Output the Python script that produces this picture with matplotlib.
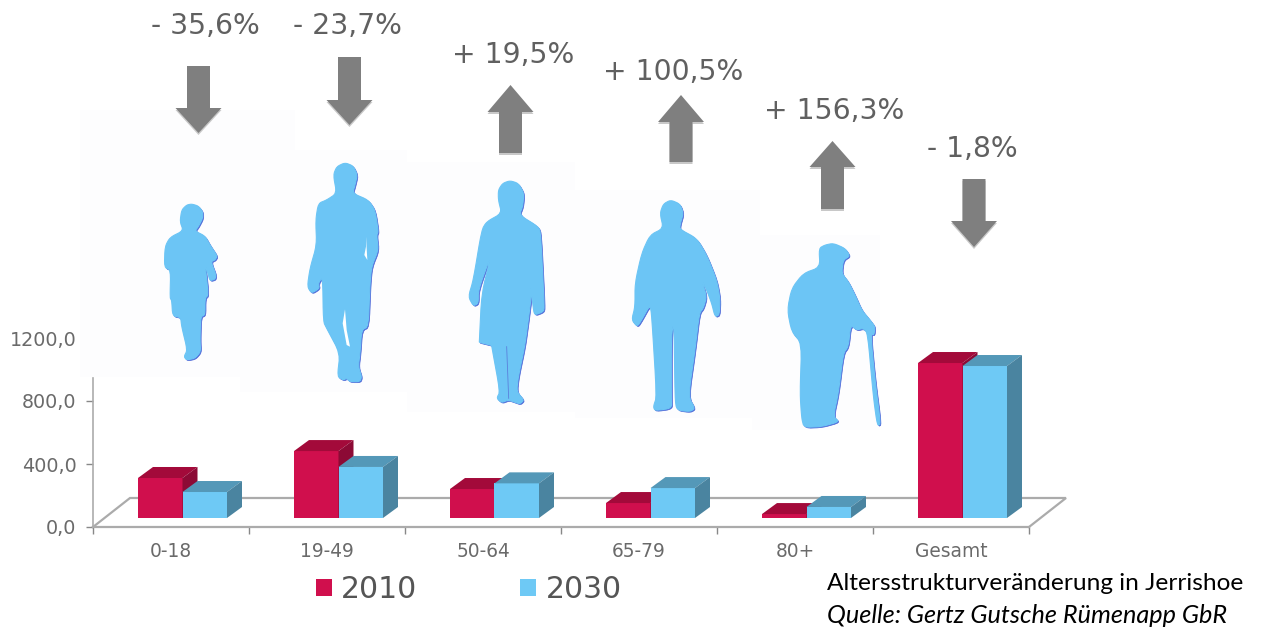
import matplotlib
matplotlib.use("Agg")
import matplotlib.pyplot as plt
from matplotlib.patches import Polygon, Rectangle

categories = ["0-18", "19-49", "50-64", "65-79", "80+", "Gesamt"]
values_2010 = [254, 425, 184, 95, 25, 984]
values_2030 = [165, 324, 220, 190, 70, 965]
changes = ["- 35,6%", "- 23,7%", "+ 19,5%", "+ 100,5%", "+ 156,3%", "- 1,8%"]
y_ticks = [0, 400, 800, 1200]
y_labels = ["0,0", "400,0", "800,0", "1200,0"]

W, H = 1262, 628
RED, RED_TOP, RED_SIDE = "#D00F4D", "#A30A3A", "#8C0A35"
BLUE, BLUE_TOP, BLUE_SIDE = "#6EC9F5", "#5498B8", "#4A84A0"
GREY_TXT = "#6A6A6A"
LINE = "#ABABAB"

fig = plt.figure(figsize=(W / 100, H / 100), dpi=100, facecolor="white")

# --- chart axes: x 93..1029 px, y 527..338 px
ax = fig.add_axes([93 / W, 1 - 527 / H, 936 / W, 189 / H])
ax.set_xlim(0, 6)
ax.set_ylim(0, 1200)
ax.patch.set_alpha(0)
PX_X = 6 / 936
PX_Y = 1200 / 189
base = 9 * PX_Y          # bars stand on the floor, above the front edge
dx, dy = 15 * PX_X, 11 * PX_Y
floor_dx, floor_dy = 37 * PX_X, 29 * PX_Y
bw = 44.5 * PX_X
off = 45 * PX_X

# floor
ax.plot([0, floor_dx, 6 + floor_dx, 6], [0, floor_dy, floor_dy, 0],
        color=LINE, lw=1.6, clip_on=False, zorder=1, solid_joinstyle="miter")


def box(x, v, front, top, side, z, label=None):
    ax.bar(x, v, bw, bottom=base, align="edge", color=front, zorder=z, label=label, clip_on=False)
    t = base + v
    ax.add_patch(Polygon([(x, t), (x + dx, t + dy), (x + bw + dx, t + dy), (x + bw, t)],
                         closed=True, fc=top, ec="none", zorder=z, clip_on=False))
    ax.add_patch(Polygon([(x + bw, base), (x + bw + dx, base + dy), (x + bw + dx, t + dy), (x + bw, t)],
                         closed=True, fc=side, ec="none", zorder=z, clip_on=False))


for i, (a, b) in enumerate(zip(values_2010, values_2030)):
    box(i + off, a, RED, RED_TOP, RED_SIDE, 3, "2010" if i == 0 else None)
    box(i + off + bw, b, BLUE, BLUE_TOP, BLUE_SIDE, 4, "2030" if i == 0 else None)

for s in ("top", "right"):
    ax.spines[s].set_visible(False)
ax.spines["left"].set_bounds(0, 149 * PX_Y)
ax.spines["left"].set_color(LINE)
ax.spines["left"].set_linewidth(1.2)
ax.spines["bottom"].set_color(LINE)
ax.spines["bottom"].set_linewidth(1.6)

ax.set_xticks(range(7))
ax.set_xticklabels([])
ax.set_xticks([i + 0.5 for i in range(6)], minor=True)
ax.set_xticklabels(categories, minor=True, fontsize=13.4, color=GREY_TXT)
ax.tick_params(axis="x", which="major", length=5, color="#888888", width=1)
ax.tick_params(axis="x", which="minor", length=0, pad=11)
ax.set_yticks(y_ticks)
ax.set_yticklabels(y_labels, fontsize=13.8, color=GREY_TXT)
ax.tick_params(axis="y", length=5, color="#888888", width=1, pad=7)
ax.yaxis.get_major_ticks()[3].tick1line.set_visible(False)

ax.legend(loc="lower left", bbox_to_anchor=(316 / W, 1 - 604 / H), bbox_transform=fig.transFigure,
          ncol=2, frameon=False, fontsize=21.5, labelcolor="#555555", borderpad=0, borderaxespad=0,
          handlelength=0.54, handleheight=0.54, handletextpad=0.3, columnspacing=3.45)

# --- overlay in pixel coordinates for the pictograms and notes
ov = fig.add_axes([0, 0, 1, 1])
ov.set_xlim(0, W)
ov.set_ylim(H, 0)
ov.axis("off")
ov.patch.set_alpha(0)

# faint backing tiles of the pictograms
for x0, y0, x1, y1 in [(80, 110, 295, 377), (240, 150, 407, 392), (407, 162, 575, 412),
                       (575, 190, 760, 418), (752, 235, 880, 430)]:
    ov.add_patch(Rectangle((x0, y0), x1 - x0, y1 - y0, fc="#FDFDFE", ec="none", zorder=0.5))

SIL, SHADOW = "#6CC5F5", "#4C68D8"
Z3 = (130, 150)
Z4 = (600, 180)
child = [(185,162),(205,168),(218,185),(218,205),(205,230),(195,243),(225,258),(240,285),(262,318),(255,330),(243,335),(258,375),(255,388),(240,392),(235,375),(225,340),(235,435),(225,445),(225,495),(212,500),(210,570),(212,605),(195,625),(170,630),(162,620),(172,600),(155,530),(152,502),(128,498),(125,450),(120,445),(122,360),(103,352),(105,290),(120,262),(160,242),(150,215),(155,180),(170,165)]
man = [(645,38),(670,48),(682,75),(675,105),(668,130),(715,150),(735,180),(745,245),(740,255),(745,300),(725,350),(720,400),(715,530),(695,540),(690,610),(685,650),(695,680),(690,695),(660,695),(650,685),(640,690),(622,680),(630,610),(590,535),(580,515),(578,380),(565,400),(568,415),(545,430),(532,410),(540,355),(560,285),(557,210),(565,160),(590,150),(620,130),(610,75),(620,50)]
woman = [(1140,92),(1165,100),(1182,130),(1178,170),(1168,195),(1225,230),(1232,250),(1243,470),(1240,485),(1215,495),(1210,480),(1195,330),(1205,430),(1195,510),(1184,590),(1165,680),(1160,725),(1182,750),(1170,762),(1150,755),(1135,750),(1115,758),(1100,745),(1110,725),(1085,588),(1085,586),(1048,577),(1048,575),(1055,430),(1085,310),(1045,420),(1045,460),(1030,468),(1015,440),(1030,390),(1055,240),(1070,215),(1115,190),(1105,150),(1105,120),(1118,100)]
senior = [(212,60),(240,72),(250,100),(240,135),(240,148),(290,175),(320,225),(350,300),(360,355),(358,405),(345,410),(335,370),(320,330),(305,300),(320,350),(310,385),(298,400),(285,510),(265,650),(285,685),(270,695),(230,690),(225,655),(222,420),(214,470),(214,655),(215,685),(165,692),(160,680),(170,650),(155,405),(150,375),(125,420),(112,440),(95,420),(105,380),(105,310),(125,220),(150,165),(190,145),(180,100),(190,72)]
cane = [(700,190),(735,205),(750,228),(730,240),(725,280),(745,305),(765,345),(785,390),(810,420),(825,440),(822,465),(812,462),(825,600),(842,732),(832,737),(820,650),(803,460),(790,445),(770,450),(752,435),(745,500),(730,520),(715,640),(700,710),(718,725),(665,740),(612,742),(605,715),(600,640),(605,490),(575,455),(562,390),(575,325),(610,280),(660,262),(657,205),(675,195)]
gaps = [[(708,260),(712,330),(703,315),(708,290)], [(645,478),(650,540),(660,590),(650,585),(638,520)]]
woman_leg_line = [(1130, 590), (1136, 745)]


def chaikin(pts, rounds=2):
    for _ in range(rounds):
        out = []
        for (x0, y0), (x1, y1) in zip(pts, pts[1:] + pts[:1]):
            out += [(0.8 * x0 + 0.2 * x1, 0.8 * y0 + 0.2 * y1), (0.2 * x0 + 0.8 * x1, 0.2 * y0 + 0.8 * y1)]
        pts = out
    return pts


def sil(pts, origin):
    p = [(origin[0] + x / 3, origin[1] + y / 3) for x, y in chaikin(pts)]
    sh = [(x + 1.0, y + 1.0) for x, y in p]
    ov.add_patch(Polygon(sh, closed=True, fc=SHADOW, ec=SHADOW, lw=0.5, joinstyle="round", zorder=5))
    ov.add_patch(Polygon(p, closed=True, fc=SIL, ec=SIL, lw=0.8, joinstyle="round", zorder=6))


sil(child, Z3)
sil(man, Z3)
sil(woman, Z3)
sil(senior, Z4)
sil(cane, Z4)
for g in gaps:
    ov.add_patch(Polygon([(Z3[0] + x / 3, Z3[1] + y / 3) for x, y in g], closed=True, fc="white", ec="none", zorder=7))
ov.plot([Z3[0] + p[0] / 3 for p in woman_leg_line], [Z3[1] + p[1] / 3 for p in woman_leg_line],
        color="#5A80DC", lw=0.6, zorder=7)

# arrows: (x centre, tail y, neck y, tip y)
arrows = [(198.5, 66, 108, 133), (349.5, 57, 100, 125), (510.5, 153, 112, 85),
          (681, 162, 122, 95), (832.5, 209, 167, 141), (974, 179, 221, 247)]
for xc, tail, neck, tip in arrows:
    pts = [(xc - 11.5, tail), (xc + 11.5, tail), (xc + 11.5, neck), (xc + 23, neck), (xc, tip),
           (xc - 23, neck), (xc - 11.5, neck)]
    ov.add_patch(Polygon([(x, y + 2) for x, y in pts], closed=True, fc="#C8C8C8", ec="none", zorder=5))
    ov.add_patch(Polygon(pts, closed=True, fc="#7F7F7F", ec="none", zorder=6))

note_pos = [(205, 26), (347, 26), (513, 55), (673, 72), (834, 111), (972, 149)]
for (x, y), s in zip(note_pos, changes):
    ov.text(x, y, s, fontsize=20.3, color="#606060", ha="center", va="center")

ov.text(827, 584, "Altersstrukturveränderung in Jerrishoe", family="Lato", fontsize=17.6, color="black", va="center", ha="left")
ov.text(827, 615.5, "Quelle: Gertz Gutsche Rümenapp GbR", family="Lato", style="italic", fontsize=18.2, color="black", va="center", ha="left")

fig.savefig("out.png", dpi=100, facecolor="white")
